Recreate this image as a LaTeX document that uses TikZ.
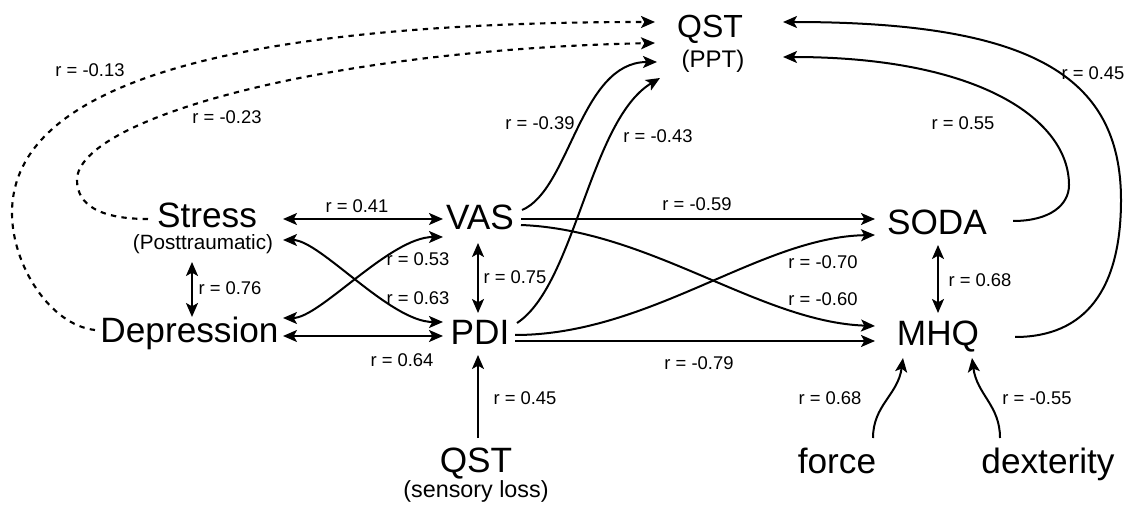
\documentclass[tikz,border=0pt]{standalone}
\usepackage{fontspec}
\setmainfont{Liberation Sans}
\usetikzlibrary{arrows.meta}
\tikzset{
  big/.style={font=\fontsize{26.4}{28}\selectfont, inner sep=0pt, anchor=base},
  qsttop/.style={font=\fontsize{24}{26}\selectfont, inner sep=0pt, anchor=base},
  subppt/.style={font=\fontsize{18}{20}\selectfont, inner sep=0pt, anchor=base},
  subpost/.style={font=\fontsize{15.5}{17}\selectfont, inner sep=0pt, anchor=base},
  subsens/.style={font=\fontsize{17.5}{19}\selectfont, inner sep=0pt, anchor=base},
  lbl/.style={font=\fontsize{13.8}{16}\selectfont, inner sep=0pt},
  tip/.tip={Stealth[length=10.5pt,width=9pt,inset=2.5pt]},
  conn/.style={line width=1.5pt, -tip},
  both/.style={line width=1.5pt, tip-tip},
  dconn/.style={line width=1.6pt, dash pattern=on 4pt off 4pt, -tip},
}
\begin{document}
\begin{tikzpicture}[x=0.75pt,y=-0.75pt]
\useasboundingbox (0,0) rectangle (1124,509);
% nodes
\node[qsttop] (qst) at (710,38) {QST};
\node[subppt] (ppt) at (713,68) {(PPT)};
\node[big] (stress) at (207,228) {Stress};
\node[subpost] (post) at (203,250) {(Posttraumatic)};
\node[big] (dep) at (189.5,343) {Depression};
\node[big] (vas) at (480,230) {VAS};
\node[big] (pdi) at (480,345) {PDI};
\node[big] (soda) at (937,235) {SODA};
\node[big] (mhq) at (938,346) {MHQ};
\node[big] (qsts) at (476,472) {QST};
\node[subsens] (sens) at (476,497) {(sensory loss)};
\node[big] (force) at (837,473) {force};
\node[big] (dex) at (1048,473) {dexterity};
% connectors
\draw[both] ([shift={(76,-9)}]stress.base) -- ([shift={(-37,-11)}]vas.base);
\draw[both] ([shift={(80,-10)}]post.base) .. controls (320,240) and (390,322) .. ([shift={(-37,-23)}]pdi.base);
\draw[both] ([shift={(93.5,-25)}]dep.base) .. controls (320,318) and (390,237) .. ([shift={(-37,7)}]vas.base);
\draw[both] ([shift={(93.5,-7)}]dep.base) -- ([shift={(-37,-9)}]pdi.base);
\draw[both] ([shift={(-11,12)}]post.base) -- ([shift={(2.5,-26)}]dep.base);
\draw[both] ([shift={(-2,13)}]vas.base) -- ([shift={(-2,-32)}]pdi.base);
\draw[conn] ([shift={(41,-11)}]vas.base) -- ([shift={(-62,-16)}]soda.base);
\draw[conn] ([shift={(41,-5)}]vas.base) .. controls (650,230) and (760,322) .. ([shift={(-63,-20)}]mhq.base);
\draw[conn] ([shift={(35,-10)}]pdi.base) .. controls (650,335) and (760,237) .. ([shift={(-62,0)}]soda.base);
\draw[conn] ([shift={(35,-4)}]pdi.base) -- ([shift={(-63,-5)}]mhq.base);
\draw[both] ([shift={(1,10)}]soda.base) -- ([shift={(0,-33)}]mhq.base);
\draw[conn] ([shift={(42,-20)}]vas.base) .. controls (570,190) and (580,62) .. ([shift={(-56,-6)}]ppt.base);
\draw[conn] ([shift={(37,-22)}]pdi.base) .. controls (575,285) and (590,120) .. ([shift={(-53,10)}]ppt.base);
\draw[dconn] ([shift={(-59,-9)}]stress.base) .. controls (100,219) and (77,205) .. (77,180) .. controls (77,120) and (320,50) .. ([shift={(-55,5)}]qst.base);
\draw[dconn] ([shift={(-94.5,-13)}]dep.base) .. controls (50,325) and (12,265) .. (12,213) .. controls (12,70) and (280,22) .. ([shift={(-55,-16)}]qst.base);
\draw[conn] ([shift={(76,-14)}]soda.base) .. controls (1050,221) and (1069,205) .. (1069,185) .. controls (1069,120) and (980,57) .. ([shift={(70,-11)}]ppt.base);
\draw[conn] ([shift={(77,-9)}]mhq.base) .. controls (1085,337) and (1121,290) .. (1121,200) .. controls (1121,75) and (1030,22) .. ([shift={(73,-16)}]qst.base);
\draw[conn] ([shift={(36,-35)}]force.base) .. controls (873,405) and (898,395) .. ([shift={(-35,12)}]mhq.base);
\draw[conn] ([shift={(-48,-35)}]dex.base) .. controls (1000,405) and (977,395) .. ([shift={(34,12)}]mhq.base);
\draw[conn] ([shift={(2,-34)}]qsts.base) -- ([shift={(-2,10)}]pdi.base);
% labels
\node[lbl] (l1) at (357,206) {r = 0.41};
\node[lbl] (l2) at (418,259) {r = 0.53};
\node[lbl] (l3) at (418,298) {r = 0.63};
\node[lbl] (l4) at (402,360) {r = 0.64};
\node[lbl] (l5) at (230,288) {r = 0.76};
\node[lbl] (l6) at (515,277) {r = 0.75};
\node[lbl] (l7) at (697,204) {r = -0.59};
\node[lbl] (l8) at (823,262) {r = -0.70};
\node[lbl] (l9) at (823,299) {r = -0.60};
\node[lbl] (l10) at (699,363) {r = -0.79};
\node[lbl] (l11) at (980,280) {r = 0.68};
\node[lbl] (l12) at (540,123) {r = -0.39};
\node[lbl] (l13) at (658,136) {r = -0.43};
\node[lbl] (l14) at (963,123) {r = 0.55};
\node[lbl] (l15) at (1093,73) {r = 0.45};
\node[lbl] (l16) at (90,70) {r = -0.13};
\node[lbl] (l17) at (227,117) {r = -0.23};
\node[lbl] (l18) at (525,398) {r = 0.45};
\node[lbl] (l19) at (830,398) {r = 0.68};
\node[lbl] (l20) at (1037,398) {r = -0.55};
\end{tikzpicture}
\end{document}
